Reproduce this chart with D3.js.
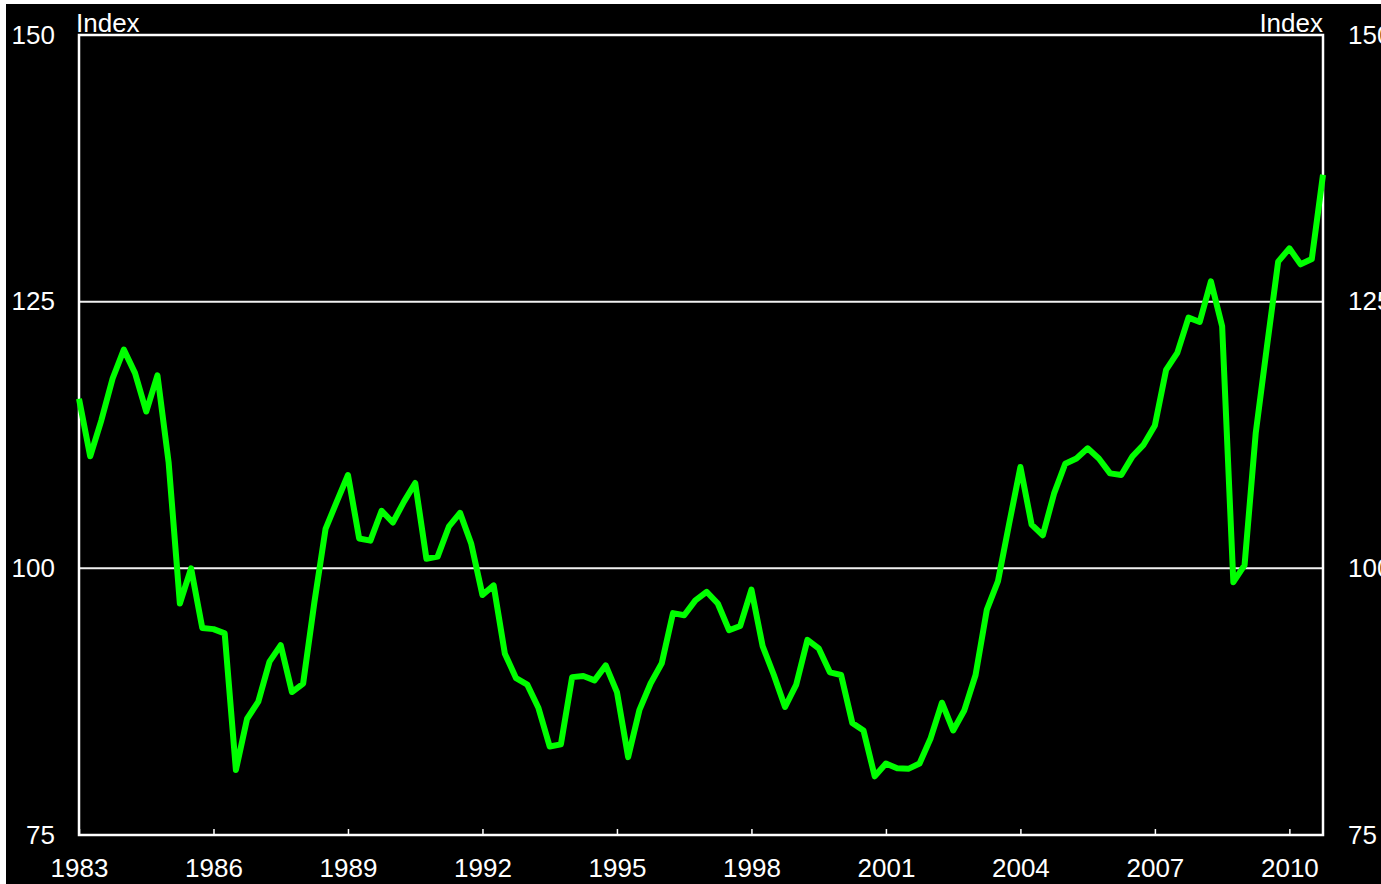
<!DOCTYPE html>
<html>
<head>
<meta charset="utf-8">
<script src="https://cdn.jsdelivr.net/npm/d3@7"></script>
<style>
  html, body { margin: 0; padding: 0; background: #000; overflow: hidden; }
  text { font-family: "Liberation Sans", Arial, sans-serif; fill: #fff; }
</style>
</head>
<body>
<div id="chart"></div>
<script>
// quarterly index, 1983Q1 .. 2010Q4
const startYear = 1983;
const values = [
  115.9, 110.5, 113.9, 117.8, 120.5, 118.3, 114.7, 118.1, 109.9, 96.7,
  100.0, 94.4, 94.3, 93.9, 81.1, 85.9, 87.5, 91.25, 92.8, 88.4,
  89.2, 96.8, 103.7, 106.25, 108.75, 102.8, 102.6, 105.4, 104.3, 106.25,
  108.0, 100.9, 101.1, 103.9, 105.2, 102.3, 97.5, 98.4, 92.0, 89.7,
  89.1, 86.9, 83.3, 83.5, 89.8, 89.9, 89.5, 90.9, 88.4, 82.3,
  86.7, 89.2, 91.1, 95.8, 95.6, 97.0, 97.8, 96.7, 94.2, 94.6,
  98.0, 92.7, 90.0, 87.0, 89.1, 93.3, 92.5, 90.25, 90.0, 85.5,
  84.8, 80.5, 81.7, 81.25, 81.2, 81.7, 84.1, 87.4, 84.8, 86.7,
  90.0, 96.1, 98.8, 104.2, 109.5, 104.1, 103.1, 107.0, 109.8, 110.3,
  111.25, 110.3, 108.9, 108.75, 110.5, 111.6, 113.4, 118.6, 120.2, 123.5,
  123.1, 126.9, 122.7, 98.7, 100.3, 112.7, 120.8, 128.75, 130.0, 128.5,
  129.0, 136.9
];
const xTicks = [1983, 1986, 1989, 1992, 1995, 1998, 2001, 2004, 2007, 2010];
const yTicks = [75, 100, 125, 150];
const gridValues = [100, 125];
const unitLabel = "Index";

const W = 1381, H = 884;
const margin = {top: 35, right: 58, bottom: 49, left: 79},
  width = W - margin.left - margin.right,
  height = H - margin.top - margin.bottom;

const root = d3.select("#chart").append("svg")
  .attr("width", W)
  .attr("height", H);

root.append("rect").attr("width", W).attr("height", H).attr("fill", "#000");
// white strips at the image edges
root.append("rect").attr("x", 0).attr("y", 0).attr("width", W).attr("height", 4).attr("fill", "#fff");
root.append("rect").attr("x", 0).attr("y", 0).attr("width", 6).attr("height", H).attr("fill", "#fff");

const svg = root.append("g")
  .attr("transform", `translate(${margin.left}, ${margin.top})`);

const data = values.map((v, i) => ({t: startYear + i / 4, v: v}));

const x = d3.scaleLinear()
  .domain([startYear, startYear + (values.length - 1) / 4])
  .range([0, width]);
const y = d3.scaleLinear()
  .domain([75, 150])
  .range([height, 0]);

// gridlines
svg.selectAll(".grid")
  .data(gridValues)
  .enter().append("line")
  .attr("x1", 0).attr("x2", width)
  .attr("y1", d => y(d)).attr("y2", d => y(d))
  .attr("stroke", "#f0f0f0")
  .attr("stroke-width", 2);

// frame
svg.append("rect")
  .attr("width", width).attr("height", height)
  .attr("fill", "none")
  .attr("stroke", "#fff")
  .attr("stroke-width", 2.5);

// bottom axis: ticks point up, labels below
const xAxis = svg.append("g")
  .attr("transform", `translate(0, ${height})`)
  .call(d3.axisBottom(x).tickValues(xTicks).tickFormat(d3.format("d")).tickSizeInner(-6).tickSizeOuter(0).tickPadding(24));
xAxis.select(".domain").remove();
xAxis.selectAll("line").attr("stroke", "#fff").attr("stroke-width", 1.5);
xAxis.selectAll("text").style("font-size", "26px").attr("fill", "#fff")
  .style("font-family", "'Liberation Sans', Arial, sans-serif");

// left axis labels
const yLeft = svg.append("g")
  .call(d3.axisLeft(y).tickValues(yTicks).tickSize(0).tickPadding(24));
yLeft.select(".domain").remove();
yLeft.selectAll("text").style("font-size", "26px").attr("fill", "#fff")
  .style("font-family", "'Liberation Sans', Arial, sans-serif");

// right axis labels
const yRight = svg.append("g")
  .attr("transform", `translate(${width}, 0)`)
  .call(d3.axisRight(y).tickValues(yTicks).tickSize(0).tickPadding(25));
yRight.select(".domain").remove();
yRight.selectAll("text").style("font-size", "26px").attr("fill", "#fff")
  .style("font-family", "'Liberation Sans', Arial, sans-serif");

// unit labels
svg.append("text")
  .attr("x", -3).attr("y", -3)
  .style("font-size", "26px")
  .text(unitLabel);
svg.append("text")
  .attr("x", width).attr("y", -3)
  .attr("text-anchor", "end")
  .style("font-size", "26px")
  .text(unitLabel);

// the series
svg.append("path")
  .datum(data)
  .attr("fill", "none")
  .attr("stroke", "#00ff00")
  .attr("stroke-width", 6)
  .attr("stroke-linejoin", "round")
  .attr("d", d3.line()
    .x(d => x(d.t))
    .y(d => y(d.v)));
</script>
</body>
</html>
